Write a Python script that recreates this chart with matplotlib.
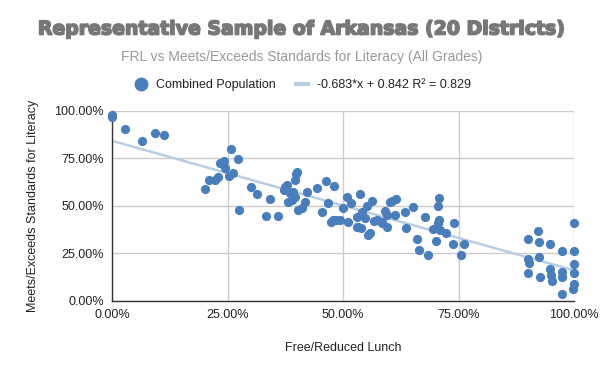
import matplotlib.pyplot as plt
import matplotlib.patheffects as pe
from matplotlib.lines import Line2D
from matplotlib.ticker import PercentFormatter

# FRL share (%) and meets/exceeds literacy share (%)
frl = [0.0, 0.0, 2.7, 6.5, 9.3, 11.2, 20.1, 21.0, 22.3, 23.0, 23.4, 24.1, 24.4,
       25.2, 25.7, 26.2, 27.3, 27.5, 30.0, 31.3, 33.3, 34.2, 35.8, 37.1, 37.4,
       37.8, 38.1, 38.5, 38.9, 39.2, 39.6, 39.1, 39.6, 39.7, 40.0, 40.3, 41.0,
       41.7, 42.1, 44.3, 45.5, 46.2, 46.8, 47.4, 47.7, 48.1, 48.5, 49.3, 50.0,
       50.8, 51.1, 51.7, 52.9, 52.9, 53.3, 53.6, 53.8, 54.0, 54.7, 55.1, 55.4,
       55.8, 56.2, 56.7, 57.3, 58.3, 58.3, 59.1, 59.4, 59.4, 60.1, 60.5, 61.4,
       61.2, 63.4, 63.5, 65.2, 66.0, 66.3, 67.7, 68.4, 69.5, 70.1, 70.6, 70.8,
       70.6, 70.8, 70.9, 72.2, 73.8, 74.0, 75.6, 76.1, 89.9, 90.1, 90.2, 90.1,
       92.2, 92.4, 92.4, 92.6, 94.7, 94.7, 94.9, 95.2, 97.3, 97.3, 97.3, 97.3,
       100.0, 100.0, 100.0, 100.0, 100.0, 99.8]
literacy = [98.0, 97.0, 90.3, 84.3, 88.5, 87.2, 58.8, 63.5, 63.5, 65.0, 72.4,
            73.6, 70.0, 65.7, 79.9, 67.1, 74.5, 47.7, 60.0, 56.0, 44.5, 53.7,
            44.7, 58.3, 60.0, 61.0, 52.0, 56.5, 53.0, 55.6, 54.7, 57.4, 63.5,
            66.7, 68.0, 47.7, 48.6, 52.0, 57.4, 59.5, 46.8, 63.0, 51.6, 41.5,
            42.4, 60.4, 42.5, 42.4, 48.6, 54.7, 41.5, 51.2, 44.2, 38.6, 38.6,
            56.2, 38.1, 46.8, 43.3, 50.0, 34.5, 35.7, 52.6, 42.0, 42.4, 41.5,
            40.7, 47.2, 45.0, 38.9, 52.0, 52.5, 53.5, 45.0, 46.8, 38.4, 49.1,
            32.2, 26.6, 44.2, 23.9, 37.7, 31.3, 40.7, 42.4, 50.0, 54.2, 37.1,
            35.4, 29.8, 41.0, 23.9, 29.8, 32.2, 21.7, 19.9, 14.3, 36.6, 31.0,
            22.7, 12.5, 29.6, 16.4, 13.4, 10.4, 26.0, 15.1, 12.2, 3.3, 40.7,
            26.0, 19.2, 14.6, 8.6, 6.1]

# trendline from the legend
slope = -0.683
intercept = 0.842
r2 = 0.829

x = [v / 100 for v in frl]
y = [v / 100 for v in literacy]

plt.rcParams['font.family'] = ['Liberation Sans', 'DejaVu Sans']

fig = plt.figure(figsize=(6, 3.71), dpi=100)
ax = fig.add_axes([0.187, 0.19, 0.77, 0.511])

dot_color = '#4a7ebb'
line_color = '#b9cde5'

ax.plot([0, 1], [intercept, slope + intercept], color=line_color, lw=1.8, zorder=2)
ax.scatter(x, y, s=44, color=dot_color, zorder=3, clip_on=False, linewidths=0)

ax.set_xlim(0, 1)
ax.set_ylim(0, 1)
ax.set_xticks([0, 0.25, 0.5, 0.75, 1.0])
ax.set_yticks([0, 0.25, 0.5, 0.75, 1.0])
ax.xaxis.set_major_formatter(PercentFormatter(1.0, decimals=2))
ax.yaxis.set_major_formatter(PercentFormatter(1.0, decimals=2))
ax.tick_params(length=0, labelsize=9, colors='#222222', pad=6)
ax.grid(True, color='#cccccc', lw=1)
ax.set_axisbelow(True)
for s in ['top', 'right']:
    ax.spines[s].set_visible(False)
for s in ['left', 'bottom']:
    ax.spines[s].set_color('#333333')
    ax.spines[s].set_linewidth(1)

ax.set_xlabel('Free/Reduced Lunch', fontsize=9, color='#222222', labelpad=15)
ax.set_ylabel('Meets/Exceeds Standards for Literacy', fontsize=9, color='#222222', labelpad=11)

# heavy grey title (Arial Black look) - thicken with a stroke
fig.text(0.502, 1 - 29 / 371, 'Representative Sample of Arkansas (20 Districts)',
         ha='center', va='center', fontsize=13.6, fontweight='heavy',
         color='#777777', family='DejaVu Sans',
         path_effects=[pe.withStroke(linewidth=1.2, foreground='#777777')])
fig.text(0.502, 1 - 57 / 371, 'FRL vs Meets/Exceeds Standards for Literacy (All Grades)',
         ha='center', va='center', fontsize=10, color='#999999')

handles = [
    Line2D([], [], marker='o', ls='none', color=dot_color, markersize=9),
    Line2D([], [], color=line_color, lw=3),
]
labels = ['Combined Population', f'{slope}*x + {intercept} R\u00b2 = {r2}']
fig.legend(handles, labels, loc='center', bbox_to_anchor=(0.505, 1 - 85 / 371),
           ncol=2, frameon=False, fontsize=9, handlelength=1.0, handletextpad=0.7,
           columnspacing=1.6, labelcolor='#222222')

fig.savefig('out.png', dpi=100, facecolor='white')
